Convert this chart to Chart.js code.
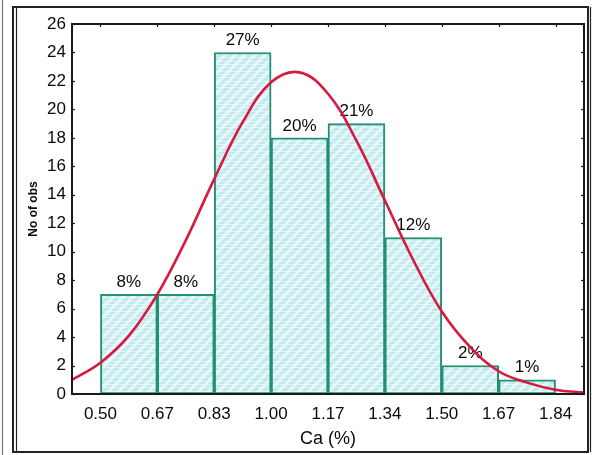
<!DOCTYPE html>
<html><head><meta charset="utf-8">
<script src="https://cdn.jsdelivr.net/npm/chart.js@4/dist/chart.umd.min.js"></script>
<style>html,body{margin:0;padding:0;background:#fff}#wrap{width:592px;height:455px;position:relative}</style>
</head><body><div id="wrap"><canvas id="c" width="592" height="455"></canvas></div>
<script>
const tickLabels = ['0.50','0.67','0.83','1.00','1.17','1.34','1.50','1.67','1.84'];
const counts = [7, 7, 24, 18, 19, 11, 2, 1];
const percents = ['8%','8%','27%','20%','21%','12%','2%','1%'];
const curveX = [-0.5,0,0.5,1,1.5,2,2.5,3,3.5,4,4.5,5,5.5,6,6.5,7,7.5,8,8.5];
const curveY = [1.0,2.2,4.1,7.0,10.8,15.1,19.1,21.9,22.6,21.1,17.8,13.6,9.4,5.8,3.3,1.6,0.8,0.3,0.1];
const yTicks = [0,2,4,6,8,10,12,14,16,18,20,22,24,26];

const FONT = "'Liberation Sans', Arial, sans-serif";
const TXT = '#0a0a0a';

function makePattern(){
  const p = document.createElement('canvas'); p.width = 10; p.height = 10;
  const g = p.getContext('2d');
  g.fillStyle = '#bfe9f0'; g.fillRect(0,0,10,10);
  g.strokeStyle = '#e6f7f6'; g.lineWidth = 3;
  g.beginPath(); g.moveTo(-2,12); g.lineTo(12,-2); g.stroke();
  g.beginPath(); g.moveTo(-7,7); g.lineTo(7,-7); g.stroke();
  g.beginPath(); g.moveTo(3,17); g.lineTo(17,3); g.stroke();
  g.strokeStyle = 'rgba(255,255,255,0.45)'; g.lineWidth = 1;
  for (let y=1;y<10;y+=3){ g.beginPath(); g.moveTo(0,y+0.5); g.lineTo(10,y+0.5); g.stroke(); }
  return document.getElementById('c').getContext('2d').createPattern(p,'repeat');
}

const framePlugin = {
  id: 'frame',
  beforeDraw(chart){
    const ctx = chart.ctx;
    ctx.save();
    ctx.strokeStyle = '#222'; ctx.lineWidth = 2;
    ctx.strokeRect(13, 7, 575, 445);
    ctx.lineWidth = 1.2;
    ctx.beginPath(); ctx.moveTo(16.5, 7); ctx.lineTo(16.5, 452); ctx.stroke();
    ctx.beginPath(); ctx.moveTo(590.5, 7); ctx.lineTo(590.5, 452); ctx.stroke();
    ctx.strokeStyle = '#777';
    ctx.beginPath(); ctx.moveTo(2.5, 0); ctx.lineTo(2.5, 455); ctx.stroke();
    ctx.restore();
  },
  afterDatasetDraw(chart, args){
    if (args.index !== 0) return;
    const ctx = chart.ctx;
    const meta = chart.getDatasetMeta(0);
    ctx.save();
    ctx.fillStyle = TXT;
    ctx.font = '17px ' + FONT;
    ctx.textAlign = 'center'; ctx.textBaseline = 'middle';
    meta.data.forEach((bar, i) => {
      ctx.fillText(percents[i], bar.x, bar.y - 12);
    });
    ctx.restore();
  },
  afterDraw(chart){
    const ctx = chart.ctx, a = chart.chartArea;
    const xs = chart.scales.x, ys = chart.scales.y;
    ctx.save();
    ctx.strokeStyle = '#1a1a1a'; ctx.lineWidth = 2;
    ctx.strokeRect(a.left, a.top, a.right - a.left, a.bottom - a.top);
    ctx.lineWidth = 1.2;
    yTicks.forEach(v => {
      const y = Math.round(ys.getPixelForValue(v)) + 0.5;
      ctx.beginPath(); ctx.moveTo(a.left, y); ctx.lineTo(a.left + 3, y); ctx.stroke();
      ctx.beginPath(); ctx.moveTo(a.right, y); ctx.lineTo(a.right - 3, y); ctx.stroke();
    });
    tickLabels.forEach((t, i) => {
      const x = Math.round(xs.getPixelForValue(i)) + 0.5;
      ctx.beginPath(); ctx.moveTo(x, a.top); ctx.lineTo(x, a.top + 3); ctx.stroke();
    });
    ctx.restore();
  }
};

new Chart(document.getElementById('c'), {
  data: {
    datasets: [
      {
        type: 'bar',
        order: 1,
        data: counts.map((c, i) => ({x: i + 0.5, y: c})),
        backgroundColor: makePattern(),
        borderColor: '#23916f',
        borderWidth: 2,
        borderSkipped: false,
        barPercentage: 1,
        categoryPercentage: 1
      },
      {
        type: 'line',
        order: 0,
        data: curveX.map((x, i) => ({x: x, y: curveY[i]})),
        borderColor: '#d8183f',
        borderWidth: 2.6,
        pointRadius: 0,
        tension: 0.4,
        fill: false
      }
    ]
  },
  options: {
    responsive: false,
    animation: false,
    events: [],
    layout: { padding: { top: 24, right: 8, left: 0, bottom: 0 } },
    plugins: { legend: { display: false }, tooltip: { enabled: false } },
    scales: {
      x: {
        type: 'linear',
        offset: false,
        min: -0.5, max: 8.5,
        afterFit(s){ s.height = 61; },
        grid: { display: false, drawTicks: false, offset: false },
        border: { display: false },
        afterBuildTicks(s){ s.ticks = tickLabels.map((t, i) => ({value: i})); },
        ticks: {
          padding: 10,
          color: TXT,
          font: { family: FONT, size: 17 },
          autoSkip: false, maxRotation: 0,
          callback: (v) => tickLabels[v]
        },
        title: {
          display: true, text: 'Ca (%)', color: TXT,
          font: { family: FONT, size: 18 },
          padding: { top: 6, bottom: 5 }
        }
      },
      y: {
        min: 0, max: 26,
        afterFit(s){ s.width = 72; },
        grid: { display: false, drawTicks: false },
        border: { display: false },
        afterBuildTicks(s){ s.ticks = yTicks.map(v => ({value: v})); },
        ticks: {
          padding: 6,
          color: TXT,
          font: { family: FONT, size: 17 },
          autoSkip: false
        },
        title: {
          display: true, text: 'No of obs', color: TXT,
          font: { family: FONT, size: 12, weight: 'bold' },
          padding: { top: 26, bottom: 0 }
        }
      }
    }
  },
  plugins: [framePlugin]
});
</script>
</body></html>
